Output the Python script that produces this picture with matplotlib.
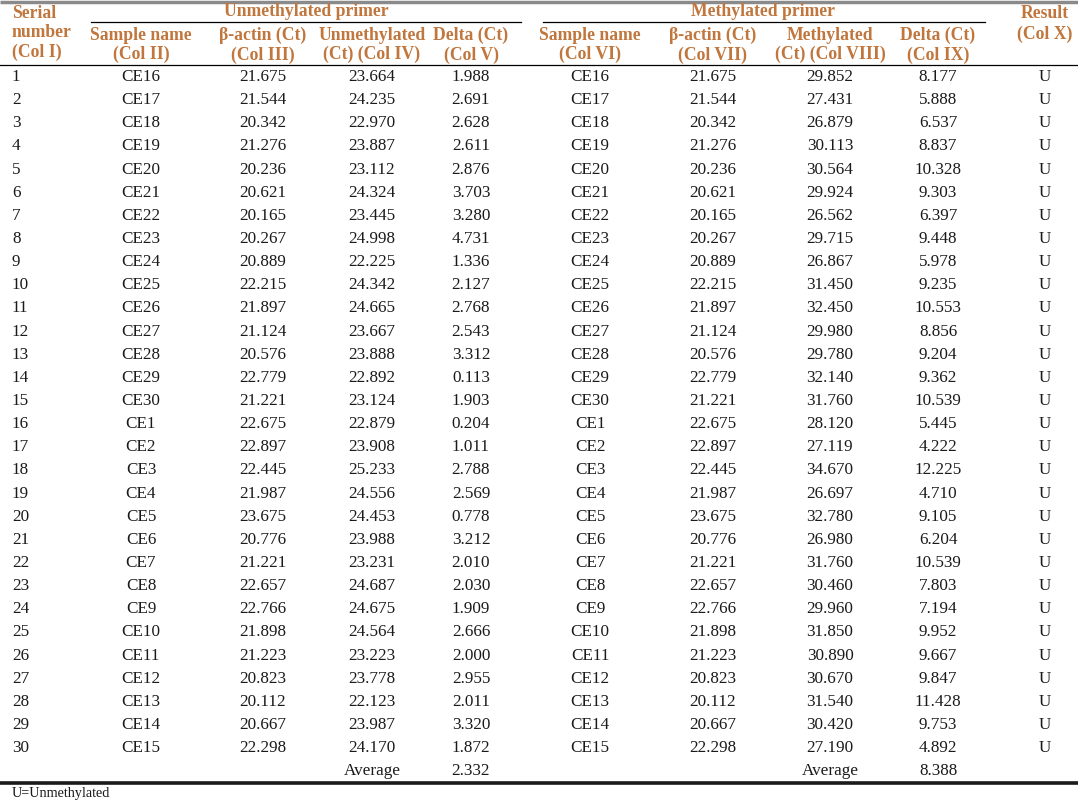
import matplotlib.pyplot as plt

# table data
serial = list(range(1, 31))
samples = ["CE16", "CE17", "CE18", "CE19", "CE20", "CE21", "CE22", "CE23", "CE24", "CE25",
           "CE26", "CE27", "CE28", "CE29", "CE30", "CE1", "CE2", "CE3", "CE4", "CE5",
           "CE6", "CE7", "CE8", "CE9", "CE10", "CE11", "CE12", "CE13", "CE14", "CE15"]
beta_actin = [21.675, 21.544, 20.342, 21.276, 20.236, 20.621, 20.165, 20.267, 20.889, 22.215,
              21.897, 21.124, 20.576, 22.779, 21.221, 22.675, 22.897, 22.445, 21.987, 23.675,
              20.776, 21.221, 22.657, 22.766, 21.898, 21.223, 20.823, 20.112, 20.667, 22.298]
unmeth_ct = [23.664, 24.235, 22.970, 23.887, 23.112, 24.324, 23.445, 24.998, 22.225, 24.342,
             24.665, 23.667, 23.888, 22.892, 23.124, 22.879, 23.908, 25.233, 24.556, 24.453,
             23.988, 23.231, 24.687, 24.675, 24.564, 23.223, 23.778, 22.123, 23.987, 24.170]
delta_unmeth = [1.988, 2.691, 2.628, 2.611, 2.876, 3.703, 3.280, 4.731, 1.336, 2.127,
                2.768, 2.543, 3.312, 0.113, 1.903, 0.204, 1.011, 2.788, 2.569, 0.778,
                3.212, 2.010, 2.030, 1.909, 2.666, 2.000, 2.955, 2.011, 3.320, 1.872]
meth_ct = [29.852, 27.431, 26.879, 30.113, 30.564, 29.924, 26.562, 29.715, 26.867, 31.450,
           32.450, 29.980, 29.780, 32.140, 31.760, 28.120, 27.119, 34.670, 26.697, 32.780,
           26.980, 31.760, 30.460, 29.960, 31.850, 30.890, 30.670, 31.540, 30.420, 27.190]
delta_meth = [8.177, 5.888, 6.537, 8.837, 10.328, 9.303, 6.397, 9.448, 5.978, 9.235,
              10.553, 8.856, 9.204, 9.362, 10.539, 5.445, 4.222, 12.225, 4.710, 9.105,
              6.204, 10.539, 7.803, 7.194, 9.952, 9.667, 9.847, 11.428, 9.753, 4.892]
result = ["U"] * 30
avg_unmeth = 2.332
avg_meth = 8.388

sub_headers = ["Sample name\n(Col II)", "β-actin (Ct)\n(Col III)", "Unmethylated\n(Ct) (Col IV)",
               "Delta (Ct)\n(Col V)", "Sample name\n(Col VI)", "β-actin (Ct)\n(Col VII)",
               "Methylated\n(Ct) (Col VIII)", "Delta (Ct)\n(Col IX)"]

plt.rcParams['font.family'] = ['Liberation Serif', 'DejaVu Serif']
HEAD = '#C0763C'
FS = 12.3

fig = plt.figure(figsize=(10.78, 8.01), dpi=100)
ax = fig.add_axes([0, 0, 1, 1])
ax.set_xlim(0, 1078)
ax.set_ylim(801, 0)
ax.axis('off')

# rules
ax.plot([0, 1078], [1.5, 1.5], color='#8a8a8a', lw=2.5, solid_capstyle='butt')
ax.plot([91, 521], [22, 22], color='black', lw=0.9)
ax.plot([543, 985], [22, 22], color='black', lw=0.9)
ax.plot([0, 1078], [64.5, 64.5], color='black', lw=0.9)
ax.plot([0, 1078], [782.5, 782.5], color='#1a1a1a', lw=2.6, solid_capstyle='butt')

# headers
hb = dict(color=HEAD, fontsize=12.7, fontweight='bold', va='center')
ax.text(12, 33, "Serial\nnumber\n(Col I)", ha='left', linespacing=1.2, **hb)
ax.text(306, 12, "Unmethylated primer", ha='center', **hb)
ax.text(763, 12, "Methylated primer", ha='center', **hb)
ax.text(1045, 24, "Result\n(Col X)", ha='center', linespacing=1.25, **hb)
col_x = [141, 263, 372, 471, 590, 713, 830, 938]
for x, h in zip(col_x, sub_headers):
    ax.text(x, 45, h, ha='center', linespacing=1.2, **hb)

# body rows
row_y0, row_dy = 77, 23.14
body = dict(color='#1a1a1a', fontsize=FS, va='center', ha='center')
for i in range(30):
    y = row_y0 + i * row_dy
    ax.text(12, y, str(serial[i]), color='#1a1a1a', fontsize=FS, va='center', ha='left')
    vals = [samples[i], f"{beta_actin[i]:.3f}", f"{unmeth_ct[i]:.3f}", f"{delta_unmeth[i]:.3f}",
            samples[i], f"{beta_actin[i]:.3f}", f"{meth_ct[i]:.3f}", f"{delta_meth[i]:.3f}"]
    for x, v in zip(col_x, vals):
        ax.text(x, y, v, **body)
    ax.text(1045, y, result[i], **body)

y_avg = row_y0 + 30 * row_dy
ax.text(col_x[2], y_avg, "Average", **body)
ax.text(col_x[3], y_avg, f"{avg_unmeth:.3f}", **body)
ax.text(col_x[6], y_avg, "Average", **body)
ax.text(col_x[7], y_avg, f"{avg_meth:.3f}", **body)

ax.text(12, 794, "U=Unmethylated", color='#1a1a1a', fontsize=10.2, va='center', ha='left')

fig.savefig("out.png", dpi=100)
